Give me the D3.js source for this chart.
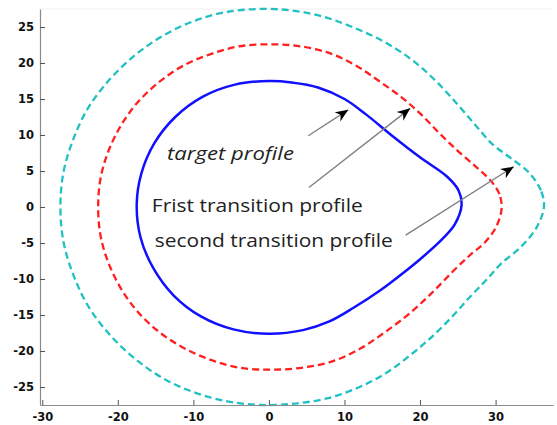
<!DOCTYPE html>
<html>
<head>
<meta charset="utf-8">
<script src="https://cdn.jsdelivr.net/npm/d3@7"></script>
<style>
  html, body { margin: 0; padding: 0; background: #fff; }
  svg { display: block; }
</style>
</head>
<body>
<svg id="chart" width="557" height="425"></svg>
<script>
// Profile outlines, [x, y] in mm, traced counter-clockwise from the right tip
const targetProfile = [
  [25.5, 0.3], [25.1, 2.3], [23.6, 4.2], [20.0, 6.9], [16.3, 9.9], [12.8, 12.9],
  [10.0, 15.0], [6.5, 16.6], [3.0, 17.3], [0.0, 17.5], [-4.5, 17.0], [-8.8, 15.3],
  [-12.4, 12.5], [-15.2, 8.8], [-16.9, 4.6], [-17.5, 0.3], [-17.0, -4.2], [-15.3, -8.5],
  [-12.6, -12.3], [-9.0, -15.2], [-4.7, -17.0], [0.0, -17.6], [4.5, -17.1], [8.0, -15.9],
  [11.2, -14.0], [14.7, -11.6], [17.6, -9.3], [20.4, -6.9], [22.8, -4.6], [24.6, -2.4]
];

const firstTransition = [
  [30.8, -0.2], [30.5, 1.8], [29.4, 3.6], [27.6, 5.4], [25.2, 7.6], [22.7, 10.1],
  [20.2, 12.8], [17.6, 15.2], [14.7, 17.4], [11.6, 19.6], [8.2, 21.3], [4.3, 22.3],
  [0.3, 22.6], [-4.0, 22.3], [-7.8, 21.2], [-11.4, 19.6], [-14.6, 17.3], [-17.4, 14.5],
  [-19.6, 11.3], [-21.3, 7.6], [-22.3, 3.9], [-22.6, 0.0], [-22.3, -3.9], [-21.3, -7.6],
  [-19.6, -11.3], [-17.4, -14.5], [-14.6, -17.3], [-11.4, -19.5], [-7.8, -21.2], [-4.0, -22.3],
  [0.3, -22.6], [4.5, -22.3], [8.5, -21.4], [12.2, -19.6], [15.6, -17.2], [18.6, -14.8],
  [21.5, -12.0], [24.3, -9.0], [26.6, -6.7], [28.6, -4.9], [30.1, -2.7]
];

const secondTransition = [
  [36.4, 0.0], [36.0, 2.3], [34.4, 4.8], [32.0, 6.8], [29.6, 8.7], [27.4, 11.3],
  [25.0, 14.2], [22.2, 17.4], [19.1, 20.3], [15.5, 22.8], [11.5, 24.8], [7.3, 26.4],
  [3.0, 27.3], [-1.5, 27.5], [-6.0, 27.0], [-10.0, 25.8], [-14.0, 23.8], [-17.7, 21.1],
  [-21.0, 17.8], [-23.9, 13.8], [-25.9, 9.4], [-27.2, 4.8], [-27.6, 0.0], [-27.2, -4.8],
  [-25.9, -9.4], [-23.9, -13.8], [-21.1, -17.7], [-17.7, -21.1], [-14.0, -23.8], [-10.0, -25.7],
  [-5.5, -27.0], [-1.0, -27.5], [3.5, -27.3], [8.0, -26.5], [12.0, -25.0], [15.6, -23.0],
  [18.8, -20.5], [21.6, -18.0], [24.2, -15.3], [26.6, -12.5], [28.8, -10.1], [30.8, -7.8],
  [33.3, -5.6], [35.4, -2.9]
];

const xTicks = [-30, -20, -10, 0, 10, 20, 30];
const yTicks = [-25, -20, -15, -10, -5, 0, 5, 10, 15, 20, 25];

// Annotation labels and their arrows (arrow endpoints in data units)
const labels = [
  { text: "target profile", x: -13.5, y: 6.5, italic: true, len: 127 },
  { text: "Frist transition profile", x: -15.5, y: -0.75, italic: false, len: 211 },
  { text: "second transition profile", x: -15.1, y: -5.6, italic: false, len: 238 }
];
const arrows = [
  { from: [5.2, 9.9], to: [10.5, 13.5] },
  { from: [5.3, 2.7], to: [18.7, 13.7] },
  { from: [18.1, -3.9], to: [32.4, 5.6] }
];

const svg = d3.select("#chart");
const x = d3.scaleLinear().domain([-30.3, 37.6]).range([40, 553]);
const y = d3.scaleLinear().domain([-27.5, 27.5]).range([405, 9]);

// faint top frame
svg.append("line")
  .attr("x1", 40).attr("x2", 553).attr("y1", 9).attr("y2", 9)
  .attr("stroke", "#f0f0f0").attr("stroke-width", 1);

const line = d3.line()
  .x(d => x(d[0])).y(d => y(d[1]))
  .curve(d3.curveCatmullRomClosed.alpha(0.5));

svg.append("path").datum(secondTransition)
  .attr("d", line).attr("fill", "none")
  .attr("stroke", "#22c0c0").attr("stroke-width", 2.3)
  .attr("stroke-dasharray", "7,4");

svg.append("path").datum(firstTransition)
  .attr("d", line).attr("fill", "none")
  .attr("stroke", "#ff1f1f").attr("stroke-width", 2.3)
  .attr("stroke-dasharray", "7,4");

svg.append("path").datum(targetProfile)
  .attr("d", line).attr("fill", "none")
  .attr("stroke", "#1010ff").attr("stroke-width", 2.5);

// Axes: left and bottom, inward ticks
const xAxis = d3.axisBottom(x).tickValues(xTicks).tickFormat(d => String(d))
  .tickSizeInner(-5).tickSizeOuter(0).tickPadding(8);
const yAxis = d3.axisLeft(y).tickValues(yTicks).tickFormat(d => String(d))
  .tickSizeInner(-5).tickSizeOuter(0).tickPadding(6);

const gx = svg.append("g").attr("transform", "translate(0,405)").call(xAxis);
const gy = svg.append("g").attr("transform", "translate(40,0)").call(yAxis);

[gx, gy].forEach(g => {
  g.select(".domain").attr("stroke", "#8a8a8a").attr("stroke-width", 1.2);
  g.selectAll(".tick line").attr("stroke", "#555").attr("stroke-width", 1);
  g.selectAll(".tick text")
    .attr("fill", "#111")
    .attr("font-family", "DejaVu Sans, sans-serif")
    .attr("font-weight", "bold")
    .attr("font-size", 11.5);
});

// Arrowhead
svg.append("defs").append("marker")
  .attr("id", "head")
  .attr("viewBox", "-13 -6 14 12")
  .attr("refX", 0).attr("refY", 0)
  .attr("markerWidth", 14).attr("markerHeight", 12)
  .attr("markerUnits", "userSpaceOnUse")
  .attr("orient", "auto")
  .append("path")
  .attr("d", "M0,0 L-13,-5.5 L-9,0 L-13,5.5 Z")
  .attr("fill", "#000");

svg.selectAll("line.arrow").data(arrows).enter().append("line")
  .attr("class", "arrow")
  .attr("x1", d => x(d.from[0])).attr("y1", d => y(d.from[1]))
  .attr("x2", d => x(d.to[0])).attr("y2", d => y(d.to[1]))
  .attr("stroke", "#808080").attr("stroke-width", 1.4)
  .attr("marker-end", "url(#head)");

svg.selectAll("text.note").data(labels).enter().append("text")
  .attr("class", "note")
  .attr("x", d => x(d.x)).attr("y", d => y(d.y))
  .attr("font-family", "Open Sans, sans-serif")
  .attr("font-size", 19)
  .attr("font-style", d => d.italic ? "italic" : "normal")
  .attr("fill", "#222")
  .attr("textLength", d => d.len)
  .attr("lengthAdjust", "spacingAndGlyphs")
  .text(d => d.text);
</script>
</body>
</html>
